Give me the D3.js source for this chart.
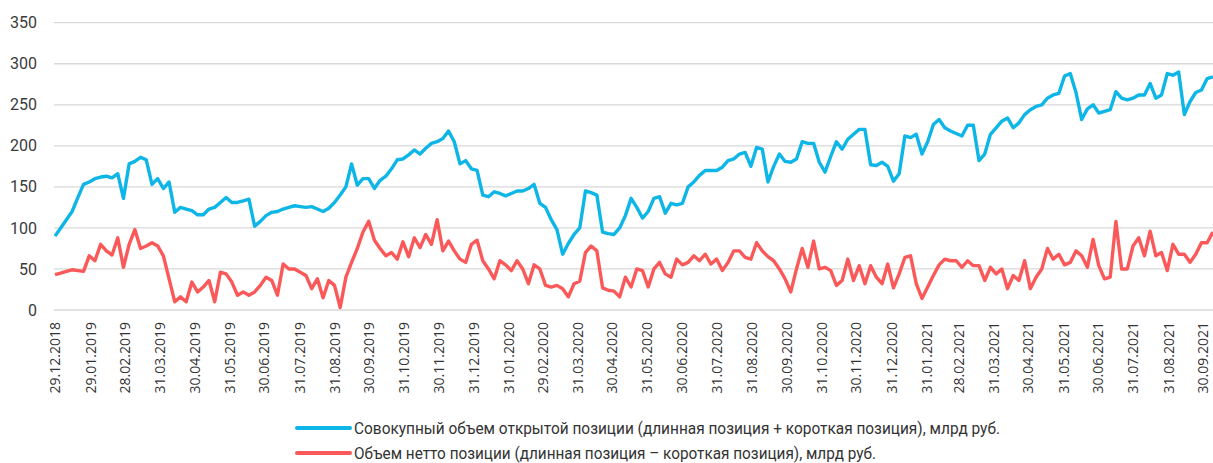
<!DOCTYPE html>
<html>
<head>
<meta charset="utf-8">
<script src="https://cdnjs.cloudflare.com/ajax/libs/d3/7.8.5/d3.min.js"></script>
<style>
  body { margin: 0; background: #fff; }
  svg { display: block; }
  .ytick { font-family: Roboto, sans-serif; font-size: 16px; fill: #3b3b3b; }
  .xtick { font-family: "Open Sans", sans-serif; font-size: 14px; fill: #333; }
  .legend text { font-family: Roboto, sans-serif; font-size: 16px; fill: #333; }
</style>
</head>
<body>
<svg id="chart" width="1213" height="463"></svg>
<script>
// axis labels (month ends)
var tickLabels = ["29.12.2018", "29.01.2019", "28.02.2019", "31.03.2019", "30.04.2019", "31.05.2019",
  "30.06.2019", "31.07.2019", "31.08.2019", "30.09.2019", "31.10.2019", "30.11.2019", "31.12.2019",
  "31.01.2020", "29.02.2020", "31.03.2020", "30.04.2020", "31.05.2020", "30.06.2020", "31.07.2020",
  "31.08.2020", "30.09.2020", "31.10.2020", "30.11.2020", "31.12.2020", "31.01.2021", "28.02.2021",
  "31.03.2021", "30.04.2021", "31.05.2021", "30.06.2021", "31.07.2021", "31.08.2021", "30.09.2021"];
var yTicks = [0, 50, 100, 150, 200, 250, 300, 350];

// readings every 5 days starting 29.12.2018
var startDate = "29.12.2018";
var stepDays = 5;

// Совокупный объем открытой позиции, млрд руб.
var totalOI = [
  90, 100, 110, 120, 137, 153, 156, 160, 162, 163,
  161, 166, 136, 178, 181, 186, 183, 153, 160, 148,
  156, 119, 125, 123, 121, 116, 116, 123, 125, 131,
  137, 131, 131, 133, 135, 102, 108, 115, 119, 120,
  123, 125, 127, 126, 125, 126, 123, 120, 124, 131,
  140, 150, 178, 152, 160, 160, 148, 158, 163, 172,
  183, 184, 189, 195, 190, 197, 203, 205, 209, 218,
  205, 178, 182, 172, 170, 140, 138, 144, 142, 139,
  142, 145, 145, 148, 153, 130, 125, 110, 98, 68,
  81, 92, 100, 145, 143, 140, 95, 93, 92, 100,
  115, 136, 125, 112, 120, 136, 138, 118, 130, 128,
  130, 150, 156, 164, 170, 170, 170, 174, 182, 184,
  190, 192, 175, 198, 196, 156, 175, 190, 181, 180,
  184, 205, 203, 203, 180, 168, 187, 205, 196, 208,
  214, 220, 220, 177, 176, 180, 175, 157, 166, 212,
  210, 214, 190, 205, 226, 232, 222, 218, 215, 212,
  225, 225, 182, 190, 214, 222, 230, 234, 222, 228,
  238, 244, 248, 250, 258, 262, 264, 285, 288, 265,
  232, 245, 250, 240, 242, 244, 266, 258, 256, 258,
  262, 262, 276, 258, 262, 288, 286, 290, 238, 254,
  265, 268, 282, 284
];

// Объем нетто позиции, млрд руб.
var netPos = [
  43, 45, 47, 49, 48, 47, 66, 60, 80, 72,
  67, 88, 52, 80, 98, 75, 78, 82, 78, 66,
  38, 10, 16, 10, 34, 22, 28, 36, 10, 46,
  44, 34, 18, 22, 18, 22, 30, 40, 36, 18,
  56, 50, 50, 46, 42, 26, 38, 15, 36, 30,
  3, 40, 58, 75, 95, 108, 85, 75, 66, 70,
  62, 83, 65, 88, 76, 92, 80, 110, 72, 84,
  72, 62, 58, 80, 85, 60, 50, 38, 60, 55,
  48, 60, 50, 32, 55, 50, 30, 28, 30, 26,
  16, 32, 35, 70, 78, 72, 27, 24, 23, 16,
  40, 28, 50, 48, 28, 50, 58, 44, 40, 62,
  55, 58, 66, 60, 68, 56, 62, 48, 58, 72,
  72, 64, 62, 82, 72, 65, 60, 50, 38, 22,
  50, 75, 52, 84, 50, 52, 48, 30, 36, 62,
  36, 54, 32, 54, 40, 32, 56, 27, 44, 64,
  66, 32, 14, 28, 42, 55, 62, 60, 60, 52,
  60, 54, 54, 36, 52, 44, 50, 26, 42, 36,
  60, 26, 40, 50, 75, 62, 68, 55, 58, 72,
  66, 52, 86, 54, 38, 40, 108, 50, 50, 78,
  88, 66, 96, 66, 70, 48, 80, 68, 68, 58,
  68, 82, 82, 95
];

var seriesNames = [
  "Совокупный объем открытой позиции (длинная позиция + короткая позиция), млрд руб.",
  "Объем нетто позиции (длинная позиция – короткая позиция), млрд руб."
];
var colors = ["#0db6e7", "#fb5959"];

var parse = d3.timeParse("%d.%m.%Y");
var d0 = parse(startDate);
var tickDates = tickLabels.map(parse);

var svg = d3.select("#chart");

var x = d3.scaleTime()
  .domain([tickDates[0], tickDates[tickDates.length - 1]])
  .range([55, 1202.6]);
var y = d3.scaleLinear().domain([0, 350]).range([310, 22.7]);

// horizontal grid
svg.append("g")
  .selectAll("line")
  .data(yTicks)
  .enter().append("line")
  .attr("x1", 54).attr("x2", 1213)
  .attr("y1", function(d) { return y(d); })
  .attr("y2", function(d) { return y(d); })
  .attr("stroke", "#d9d9d9")
  .attr("stroke-width", 1.3);

// y labels
var yAxis = d3.axisLeft(y).tickValues(yTicks).tickSize(0).tickPadding(0);
svg.append("g")
  .attr("transform", "translate(37,0)")
  .call(yAxis)
  .call(function(g) { g.select(".domain").remove(); })
  .selectAll("text")
  .attr("class", "ytick")
  .attr("font-family", null).attr("font-size", null).attr("fill", null);

// x labels
var xAxis = d3.axisBottom(x).tickValues(tickDates).tickSize(0)
  .tickFormat(function(d, i) { return tickLabels[i]; });
svg.append("g")
  .attr("transform", "translate(0,322)")
  .call(xAxis)
  .call(function(g) { g.select(".domain").remove(); })
  .selectAll("text")
  .attr("class", "xtick")
  .attr("font-family", null).attr("font-size", null).attr("fill", null)
  .attr("transform", "rotate(-90)")
  .attr("text-anchor", "end")
  .attr("x", 0).attr("y", 0)
  .attr("dy", "0.35em");

function toPoints(values) {
  return values.map(function(v, i) {
    return { date: d3.timeDay.offset(d0, i * stepDays), value: v };
  });
}

var line = d3.line()
  .x(function(d) { return x(d.date); })
  .y(function(d) { return y(d.value); });

[netPos, totalOI].forEach(function(vals, k) {
  svg.append("path")
    .datum(toPoints(vals))
    .attr("d", line)
    .attr("fill", "none")
    .attr("stroke", k === 0 ? colors[1] : colors[0])
    .attr("stroke-width", 3.4)
    .attr("stroke-linejoin", "round");
});

// legend
var legend = svg.append("g").attr("class", "legend");
var legendY = [428, 453];
var legendWidth = [646, 522];
seriesNames.forEach(function(name, i) {
  legend.append("line")
    .attr("x1", 297).attr("x2", 350)
    .attr("y1", legendY[i]).attr("y2", legendY[i])
    .attr("stroke", colors[i])
    .attr("stroke-width", 4)
    .attr("stroke-linecap", "round");
  legend.append("text")
    .attr("x", 354)
    .attr("y", legendY[i])
    .attr("dy", "0.35em")
    .attr("textLength", legendWidth[i])
    .attr("lengthAdjust", "spacingAndGlyphs")
    .text(name);
});
</script>
</body>
</html>
